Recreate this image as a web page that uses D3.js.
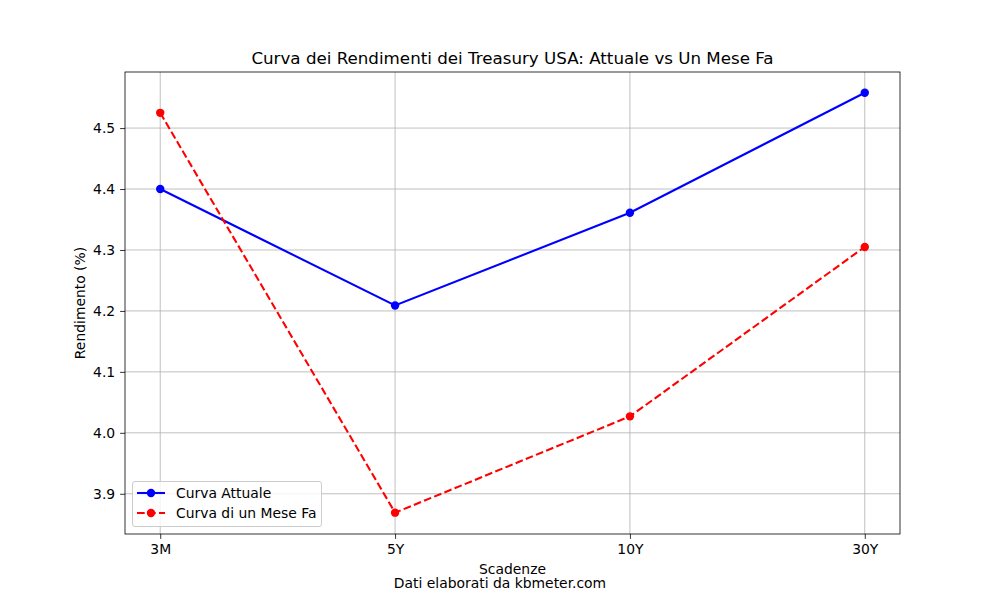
<!DOCTYPE html>
<html><head><meta charset="utf-8">
<script src="https://cdn.jsdelivr.net/npm/d3@7"></script>
<style>body{margin:0;background:#fff}text{font-family:"DejaVu Sans",sans-serif}</style>
</head><body>
<svg id="c" width="1000" height="600"></svg>
<script>
const categories = ["3M","5Y","10Y","30Y"];
const attuale = [4.400, 4.209, 4.361, 4.558];
const meseFa = [4.525, 3.869, 4.027, 4.305];
const yTicks = [3.9,4.0,4.1,4.2,4.3,4.4,4.5];
const seriesNames = ["Curva Attuale","Curva di un Mese Fa"];

const svg = d3.select("#c");
const L=125,R=900,T=72,B=534;
const x = d3.scalePoint().domain(categories).range([L,R]).padding(0.15/(3.3/3)*1); 
// explicit linear positions via index scale
const xi = d3.scaleLinear().domain([-0.15,3.15]).range([L,R]);
const xp = c => xi(categories.indexOf(c));
const y = d3.scaleLinear().domain([3.834,4.592]).range([B,T]);

// grid
const g = svg.append("g");
categories.forEach(c=>g.append("line").attr("x1",xp(c)).attr("x2",xp(c)).attr("y1",T).attr("y2",B).attr("stroke","#b0b0b0").attr("stroke-width",0.8));
yTicks.forEach(t=>g.append("line").attr("x1",L).attr("x2",R).attr("y1",y(t)).attr("y2",y(t)).attr("stroke","#b0b0b0").attr("stroke-width",0.8));

// axes
const xAxis = d3.axisBottom(xi).tickValues(d3.range(categories.length)).tickFormat(i=>categories[i]).tickSize(4.9).tickPadding(4.9);
const yAxis = d3.axisLeft(y).tickValues(yTicks).tickFormat(d3.format(".1f")).tickSize(4.9).tickPadding(4.9);
const ax = svg.append("g").attr("transform",`translate(0,${B})`).call(xAxis);
const ay = svg.append("g").attr("transform",`translate(${L},0)`).call(yAxis);
[ax,ay].forEach(a=>{a.select(".domain").remove();a.selectAll("text").attr("font-size",13.9).attr("font-family","DejaVu Sans").attr("fill","#000");a.selectAll("line").attr("stroke","#000").attr("stroke-width",0.8);});

svg.append("rect").attr("x",L).attr("y",T).attr("width",R-L).attr("height",B-T).attr("fill","none").attr("stroke","#000").attr("stroke-width",0.8);

// lines
const line = d3.line().x((d,i)=>xi(i)).y(d=>y(d));
function series(data,color,dash){
  svg.append("path").datum(data).attr("d",line).attr("fill","none").attr("stroke",color).attr("stroke-width",2.08).attr("stroke-dasharray",dash);
  svg.selectAll(null).data(data).enter().append("circle").attr("cx",(d,i)=>xi(i)).attr("cy",d=>y(d)).attr("r",4.2).attr("fill",color);
}
series(attuale,"#0000ff",null);
series(meseFa,"#ff0000","7.7,3.3");

// title & labels
svg.append("text").attr("x",(L+R)/2).attr("y",64).attr("text-anchor","middle").attr("font-size",16.7).text("Curva dei Rendimenti dei Treasury USA: Attuale vs Un Mese Fa");
svg.append("text").attr("transform","translate(85,303) rotate(-90)").attr("text-anchor","middle").attr("font-size",13.9).text("Rendimento (%)");
svg.append("text").attr("x",(L+R)/2).attr("y",574).attr("text-anchor","middle").attr("font-size",13.9).text("Scadenze");
svg.append("text").attr("x",500).attr("y",588).attr("text-anchor","middle").attr("font-size",13.9).text("Dati elaborati da kbmeter.com");

// legend
const lg = svg.append("g");
lg.append("rect").attr("x",132.5).attr("y",481.5).attr("width",189).attr("height",45).attr("rx",2.5).attr("fill","#fff").attr("fill-opacity",0.8).attr("stroke","#cccccc").attr("stroke-width",1);
const colors=["#0000ff","#ff0000"], dashes=[null,"7.7,3.3"];
seriesNames.forEach((n,i)=>{
  const yy = 493 + i*20;
  lg.append("line").attr("x1",137).attr("x2",165).attr("y1",yy).attr("y2",yy).attr("stroke",colors[i]).attr("stroke-width",2.08).attr("stroke-dasharray",dashes[i]);
  lg.append("circle").attr("cx",151).attr("cy",yy).attr("r",4.2).attr("fill",colors[i]);
  lg.append("text").attr("x",176).attr("y",yy+5).attr("font-size",13.9).text(n);
});
</script>
</body></html>
